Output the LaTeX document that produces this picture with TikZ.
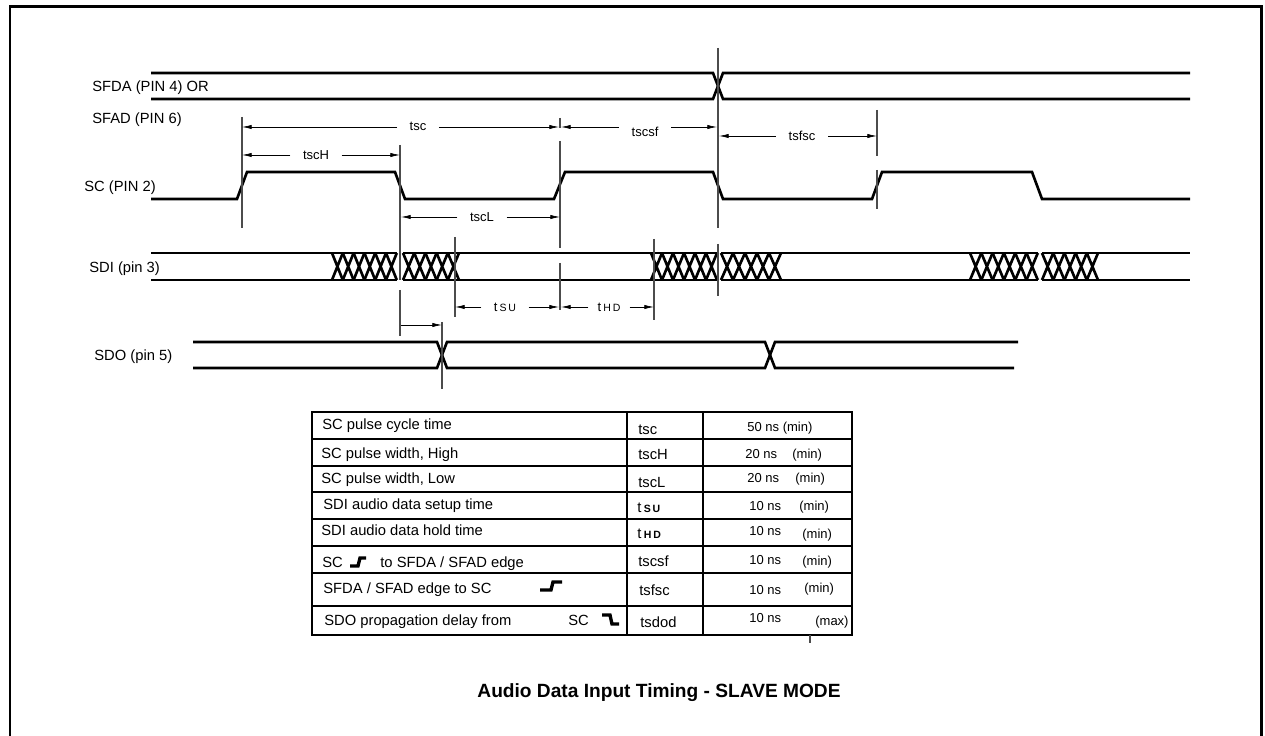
\documentclass[tikz,border=0pt]{standalone}
\usepackage{fontspec}
\setmainfont{Liberation Sans}
\usetikzlibrary{arrows.meta}
\newcommand{\xcross}[3]{% first x, count, pitch
  \foreach \k in {1,...,#2}
    \draw[sig] ({#1+(\k-1)*#3},253) -- ({#1+\k*#3},280)
               ({#1+(\k-1)*#3},280) -- ({#1+\k*#3},253);}
\begin{document}
\begin{tikzpicture}[x=0.02cm,y=-0.02cm,>={Latex[length=5.5pt,width=2.4pt]},
  sig/.style={line width=1.5pt},
  guide/.style={line width=0.6pt,black!70},
  glyph/.style={line width=1.9pt},
  signame/.style={font=\fontsize{8.4}{10}\selectfont,anchor=west,inner sep=0pt,text height=6pt,text depth=0pt},
  tlab/.style={font=\fontsize{7.4}{9}\selectfont,inner xsep=7pt,inner ysep=0pt,text height=5.3pt,text depth=0pt},
  cell/.style={font=\fontsize{8.4}{10}\selectfont,anchor=west,inner sep=0pt,text height=6pt,text depth=0pt},
  val/.style={font=\fontsize{7.4}{9}\selectfont,anchor=west,inner sep=0pt,text height=5.3pt,text depth=0pt}]
\useasboundingbox (0,0) rectangle (1265,736);
\draw[line width=1.7pt] (10,745) -- (10,6.5) -- (1261.5,6.5) -- (1261.5,745);

% signal names
\node(1) at (92,86) [signame] {SFDA (PIN 4) OR};
\node(2) at (92,118) [signame] {SFAD (PIN 6)};
\node(3) at (84,186) [signame] {SC (PIN 2)};
\node(4) at (89,267) [signame] {SDI (pin 3)};
\node(5) at (94,355) [signame] {SDO (pin 5)};

% waveforms
\draw[sig] (151,73) -- (713,73) -- (723,99) -- (1190,99);
\draw[sig] (151,99) -- (713,99) -- (723,73) -- (1190,73);
\draw[sig] (151,199) -- (237,199) -- (247,172) -- (395,172) -- (405,199) -- (554,199) -- (565,172) -- (713,172)
  -- (723,199) -- (872,199) -- (882,172) -- (1032,172) -- (1042,199) -- (1190,199);
\draw[sig] (151,253) -- (397,253) (403,253) -- (717,253) (721,253) -- (1038,253) (1042,253) -- (1190,253);
\draw[sig] (151,280) -- (397,280) (403,280) -- (717,280) (721,280) -- (1038,280) (1042,280) -- (1190,280);
\xcross{332}{6}{10.8} \xcross{403}{5}{11.2}
\xcross{651}{6}{11} \xcross{721}{5}{12}
\xcross{970}{6}{11.3} \xcross{1042}{5}{11.2}
\draw[sig] (193,342) -- (437,342) -- (447,368) -- (765,368) -- (775,342) -- (1018,342);
\draw[sig] (193,368) -- (437,368) -- (447,342) -- (765,342) -- (775,368) -- (1014,368);

% edge markers
\draw[guide] (242,117) -- (242,228);
\draw[guide] (400,145) -- (400,280) (400,290) -- (400,336);
\draw[guide] (560,118) -- (560,128) (560,141) -- (560,248) (560,263) -- (560,310);
\draw[guide] (718,48) -- (718,228) (718,244) -- (718,296);
\draw[guide] (877,110) -- (877,156) (877,170) -- (877,209);
\draw[guide] (455,237) -- (455,317);
\draw[guide] (654,239) -- (654,320);
\draw[guide] (442,322) -- (442,389);

% timings
\coordinate(11) at (242,127);
\coordinate(12) at (559,127);
\node(13) at (418,126) [tlab] {tsc};
\draw[->] (13.west |- 11) -- (11);
\draw[->] (13.east |- 12) -- (12);
\coordinate(14) at (561,127);
\coordinate(15) at (717,127);
\node(16) at (645,132) [tlab] {tscsf};
\draw[->] (16.west |- 14) -- (14);
\draw[->] (16.east |- 15) -- (15);
\coordinate(17) at (719,136);
\coordinate(18) at (877,136);
\node(19) at (802,136) [tlab] {tsfsc};
\draw[->] (19.west |- 17) -- (17);
\draw[->] (19.east |- 18) -- (18);
\coordinate(21) at (242,155);
\coordinate(22) at (400,155);
\node(23) at (316,155) [tlab] {tscH};
\draw[->] (23.west |- 21) -- (21);
\draw[->] (23.east |- 22) -- (22);
\coordinate(24) at (401,217);
\coordinate(25) at (560,217);
\node(26) at (482,217) [tlab] {tscL};
\draw[->] (26.west |- 24) -- (24);
\draw[->] (26.east |- 25) -- (25);
\coordinate(31) at (455,307);
\coordinate(32) at (559,307);
\node(33) at (505,307) [tlab] {t\,{\fontsize{6}{7}\selectfont S\,U}};
\draw[->] (33.west |- 31) -- (31);
\draw[->] (33.east |- 32) -- (32);
\coordinate(34) at (561,307);
\coordinate(35) at (654,307);
\node(36) at (609,307) [tlab,inner xsep=5pt] {t\,{\fontsize{6}{7}\selectfont H\,D}};
\draw[->] (36.west |- 34) -- (34);
\draw[->] (36.east |- 35) -- (35);
\coordinate(37) at (401,325);
\coordinate(38) at (442,325);
\draw[->] (37) -- (38);

% table
\draw[line width=0.6pt] (312,412) rectangle (852,635);
\draw[line width=0.6pt] (627,412) -- (627,635) (703,412) -- (703,635);
\draw[line width=0.6pt] (312,439) -- (852,439) (312,466) -- (852,466) (312,492) -- (852,492)
  (312,519) -- (852,519) (312,546) -- (852,546) (312,573) -- (852,573) (312,606) -- (852,606);
\draw[guide] (810,635) -- (810,643);
\node(41) at (322,424) [cell] {SC pulse cycle time};
\node(42) at (321,453) [cell] {SC pulse width, High};
\node(43) at (321,478) [cell] {SC pulse width, Low};
\node(44) at (323,504) [cell] {SDI audio data setup time};
\node(45) at (321,530) [cell] {SDI audio data hold time};
\node(46) at (322,562) [cell] {SC};
\draw[glyph] (350,566) -- (358,566) -- (360,558) -- (366,558);
\node(47) at (380,562) [cell] {to SFDA / SFAD edge};
\node(48) at (323,588) [cell] {SFDA / SFAD edge to SC};
\draw[glyph] (540,590) -- (551,590) -- (553,582) -- (562,582);
\node(49) at (324,620) [cell] {SDO propagation delay from};
\node(50) at (568,620) [cell] {SC};
\draw[glyph] (602,615) -- (610,615) -- (612,624) -- (619,624);
\node(51) at (638,429) [cell] {tsc};
\node(52) at (638,454) [cell] {tscH};
\node(53) at (638,482) [cell] {tscL};
\node(54) at (637,507) [cell] {t\,{\fontsize{6}{7}\selectfont\bfseries S\,U}};
\node(55) at (637,533) [cell] {t\,{\fontsize{6}{7}\selectfont\bfseries H\,D}};
\node(56) at (638,561) [cell] {tscsf};
\node(57) at (639,590) [cell] {tsfsc};
\node(58) at (640,622) [cell] {tsdod};
\node(61) at (747,427) [val] {50 ns (min)};
\node(62) at (745,454) [val] {20 ns};
\node(63) at (747,478) [val] {20 ns};
\node(64) at (749,506) [val] {10 ns};
\node(65) at (749,531) [val] {10 ns};
\node(66) at (749,560) [val] {10 ns};
\node(67) at (749,590) [val] {10 ns};
\node(68) at (749,618) [val] {10 ns};
\node(72) at (792,454) [val] {(min)};
\node(73) at (795,478) [val] {(min)};
\node(74) at (799,506) [val] {(min)};
\node(75) at (802,534) [val] {(min)};
\node(76) at (802,561) [val] {(min)};
\node(77) at (804,588) [val] {(min)};
\node(78) at (815,621) [val] {(max)};

\node(80) at (659,693) [font=\bfseries\fontsize{10.9}{12}\selectfont] {Audio Data Input Timing - SLAVE MODE};
\end{tikzpicture}
\end{document}
